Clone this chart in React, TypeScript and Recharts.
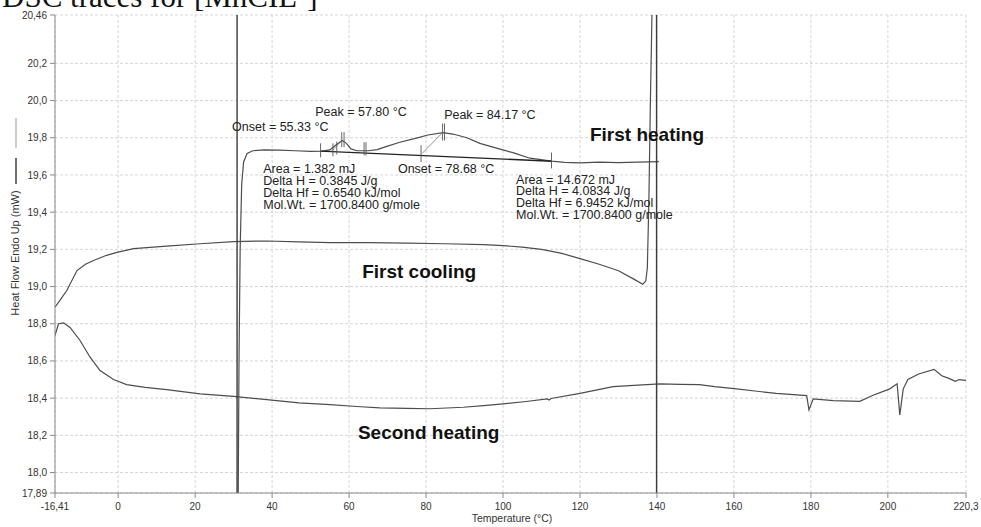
import {
  LineChart,
  Line,
  XAxis,
  YAxis,
  CartesianGrid,
  ReferenceLine,
  ReferenceDot,
} from "recharts";

const xTicks = [-16.41, 0, 20, 40, 60, 80, 100, 120, 140, 160, 180, 200, 220.3];
const yTicks = [17.89, 18.0, 18.2, 18.4, 18.6, 18.8, 19.0, 19.2, 19.4, 19.6, 19.8, 20.0, 20.2, 20.46];

// [temperature °C, heat flow mW]
const firstHeating: [number, number][] = [
  [31.2, 17.89], [31.4, 18.6], [31.7, 19.2], [32.1, 19.55], [32.6, 19.67],
  [33.5, 19.715], [35, 19.73], [38, 19.735], [42, 19.733], [46, 19.73],
  [50, 19.727], [53, 19.728], [55, 19.735], [56.5, 19.76], [58.2, 19.785],
  [59.3, 19.77], [60.5, 19.74], [62, 19.73], [65, 19.73], [67.3, 19.736],
  [70, 19.755], [73.2, 19.776], [77, 19.795], [80.5, 19.815], [84.4, 19.828],
  [87, 19.82], [90.6, 19.8], [94, 19.77], [99, 19.74], [102.6, 19.72],
  [107, 19.69], [112.7, 19.674], [116, 19.668], [120, 19.665], [125, 19.669],
  [130, 19.666], [135, 19.669], [140.5, 19.672],
];

const firstCooling: [number, number][] = [
  [-16.41, 18.889], [-15, 18.93], [-13.3, 18.98], [-10.7, 19.086], [-8.5, 19.12],
  [-6.4, 19.14], [-3, 19.168], [-0.3, 19.184], [4, 19.204], [12.6, 19.217],
  [21.3, 19.23], [30, 19.242], [38.6, 19.245], [47, 19.24], [55, 19.236],
  [65, 19.236], [75, 19.234], [85, 19.23], [95, 19.225], [100, 19.22],
  [105, 19.212], [110, 19.2], [115, 19.18], [120, 19.15], [125, 19.12],
  [130, 19.085], [134, 19.04], [136.3, 19.012], [137.1, 19.03], [137.5, 19.1],
  [137.9, 19.46], [138.3, 20.0], [138.7, 20.46],
];

const secondHeating: [number, number][] = [
  [-16.41, 18.737], [-15.5, 18.8], [-14.2, 18.805], [-12.5, 18.78], [-9.9, 18.71],
  [-7.3, 18.62], [-4.7, 18.548], [-1.2, 18.5], [2.2, 18.473], [7, 18.458],
  [12.6, 18.446], [21.3, 18.423], [30, 18.41], [38.6, 18.392], [47, 18.375],
  [55, 18.365], [62, 18.355], [68, 18.348], [75, 18.345], [81, 18.343],
  [89.7, 18.351], [95, 18.36], [100, 18.369], [106, 18.382], [111.5, 18.396],
  [112, 18.39], [112.5, 18.398], [120, 18.426], [128.6, 18.462], [137.3, 18.473],
  [140.8, 18.477], [146, 18.474], [151, 18.473], [155, 18.462], [160.7, 18.45],
  [166, 18.437], [171, 18.426], [178.9, 18.414], [179.5, 18.337], [180.6, 18.396],
  [185.8, 18.387], [192.7, 18.383], [196, 18.414], [200.5, 18.45], [202.4, 18.477],
  [203.1, 18.31], [204, 18.45], [205.2, 18.5], [208, 18.53], [212, 18.555],
  [214, 18.52], [216, 18.505], [217.5, 18.49], [218.5, 18.5], [220.3, 18.495],
];

// isothermal jumps drawn as vertical traces
const jumpAt31: [number, number][] = [[30.9, 17.89], [30.9, 20.46]];
const jumpAt140: [number, number][] = [[139.9, 17.89], [139.9, 20.46]];

// integration baseline and onset tangents
const baselines: [number, number, number, number][] = [
  [52.5, 19.728, 112.7, 19.674],
];
const tangents: [number, number, number, number][] = [
  [55.4, 19.727, 58.2, 19.786],
  [79.0, 19.716, 84.4, 19.83],
];
// small vertical cursor marks: [x, yTop, yBottom]
const cursorMarks: [number, number, number][] = [
  [52.6, 19.77, 19.695], [55.8, 19.77, 19.7], [56.8, 19.78, 19.71],
  [58.1, 19.83, 19.75], [58.7, 19.83, 19.75], [63.9, 19.776, 19.705],
  [64.4, 19.776, 19.705], [78.7, 19.76, 19.67], [84.3, 19.877, 19.785],
  [84.8, 19.877, 19.785], [112.6, 19.72, 19.635],
];

// annotations: [x, y, lines]
const smallTexts: [number, number, string[]][] = [
  [51.2, 19.919, ["Peak = 57.80 °C"]],
  [29.6, 19.839, ["Onset = 55.33 °C"]],
  [84.7, 19.903, ["Peak = 84.17 °C"]],
  [72.7, 19.608, ["Onset = 78.68 °C"]],
  [37.7, 19.608, ["Area = 1.382 mJ", "Delta H = 0.3845 J/g", "Delta Hf = 0.6540 kJ/mol", "Mol.Wt. = 1700.8400 g/mole"]],
  [103.4, 19.554, ["Area = 14.672 mJ", "Delta H = 4.0834 J/g", "Delta Hf = 6.9452 kJ/mol", "Mol.Wt. = 1700.8400 g/mole"]],
];
const traceLabels: [number, number, string][] = [
  [122.6, 19.785, "First heating"],
  [63.4, 19.048, "First cooling"],
  [62.3, 18.183, "Second heating"],
];

const toPoints = (arr: [number, number][]) => arr.map(([t, hf]) => ({ t, hf }));

const fmt = (v: number) => String(v).replace(".", ",");
const fmtY = (v: number) => {
  const s = Math.abs(v * 10 - Math.round(v * 10)) < 1e-6 ? v.toFixed(1) : v.toFixed(2);
  return s.replace(".", ",");
};

const FONT = "'Liberation Sans', Arial, sans-serif";
const CURVE = "#4d4d4d";

export default function App() {
  const series = [firstHeating, firstCooling, secondHeating, jumpAt31, jumpAt140];
  return (
    <div style={{ position: "relative", width: 981, height: 527, background: "#fff" }}>
      <style>{"body{margin:0;background:#fff}"}</style>
      <LineChart
        width={981}
        height={527}
        margin={{ top: 15, right: 15, bottom: 0, left: 0 }}
        style={{ fontFamily: FONT }}
      >
        <CartesianGrid stroke="#d6d6d6" strokeDasharray="3 2" />
        <XAxis
          type="number"
          dataKey="t"
          domain={[-16.41, 220.3]}
          ticks={xTicks}
          tickFormatter={fmt}
          interval={0}
          height={34}
          tickSize={5}
          tickMargin={5}
          stroke="#8a8a8a"
          tick={{ fill: "#333", fontSize: 10 }}
          allowDataOverflow
        />
        <YAxis
          type="number"
          dataKey="hf"
          domain={[17.89, 20.46]}
          ticks={yTicks}
          tickFormatter={fmtY}
          interval={0}
          width={55}
          tickSize={5}
          tickMargin={3}
          stroke="#8a8a8a"
          tick={{ fill: "#333", fontSize: 10 }}
          allowDataOverflow
        />
        {series.map((s, i) => (
          <Line
            key={`s-${i}`}
            data={toPoints(s)}
            dataKey="hf"
            type="linear"
            stroke={i >= 3 ? "#3a3a3a" : CURVE}
            strokeWidth={i >= 3 ? 1.4 : 1.2}
            dot={false}
            activeDot={false}
            isAnimationActive={false}
          />
        ))}
        {baselines.map(([x1, y1, x2, y2], i) => (
          <ReferenceLine
            key={`b-${i}`}
            segment={[{ x: x1, y: y1 }, { x: x2, y: y2 }]}
            stroke="#222"
            strokeWidth={1.4}
          />
        ))}
        {tangents.map(([x1, y1, x2, y2], i) => (
          <ReferenceLine
            key={`tg-${i}`}
            segment={[{ x: x1, y: y1 }, { x: x2, y: y2 }]}
            stroke="#777"
            strokeWidth={0.8}
          />
        ))}
        {cursorMarks.map(([x, y1, y2], i) => (
          <ReferenceLine
            key={`m-${i}`}
            segment={[{ x, y: y1 }, { x, y: y2 }]}
            stroke="#555"
            strokeWidth={0.9}
          />
        ))}
        {smallTexts.map(([x, y, lines], i) => (
          <ReferenceDot
            key={`a-${i}`}
            x={x}
            y={y}
            r={0}
            shape={(p: any) => (
              <text x={p.cx} y={p.cy} fontSize={12.5} fill="#222" fontFamily={FONT}>
                {lines.map((l, j) => (
                  <tspan key={j} x={p.cx} dy={j === 0 ? 0 : 11.7}>
                    {l}
                  </tspan>
                ))}
              </text>
            )}
          />
        ))}
        {traceLabels.map(([x, y, label], i) => (
          <ReferenceDot
            key={`l-${i}`}
            x={x}
            y={y}
            r={0}
            shape={(p: any) => (
              <text x={p.cx} y={p.cy} fontSize={19} fontWeight="bold" fill="#111" fontFamily={FONT}>
                {label}
              </text>
            )}
          />
        ))}
      </LineChart>
      <svg
        width={981}
        height={527}
        style={{ position: "absolute", left: 0, top: 0, pointerEvents: "none" }}
      >
        <text x={2} y={7} fontSize={31} fill="#111" fontFamily="'Liberation Serif', 'Times New Roman', serif">
          DSC traces for [MnCIL⁺]
        </text>
        <text
          x={0}
          y={0}
          transform="translate(19 253) rotate(-90)"
          textAnchor="middle"
          fontSize={11}
          fill="#333"
          fontFamily={FONT}
        >
          Heat Flow Endo Up (mW)
        </text>
        <line x1={16} y1={118} x2={16} y2={148} stroke="#999" strokeWidth={1} />
        <line x1={16} y1={158} x2={16} y2={184} stroke="#333" strokeWidth={1.4} />
        <text x={512} y={522} textAnchor="middle" fontSize={10.5} fill="#333" fontFamily={FONT}>
          Temperature (°C)
        </text>
      </svg>
    </div>
  );
}
